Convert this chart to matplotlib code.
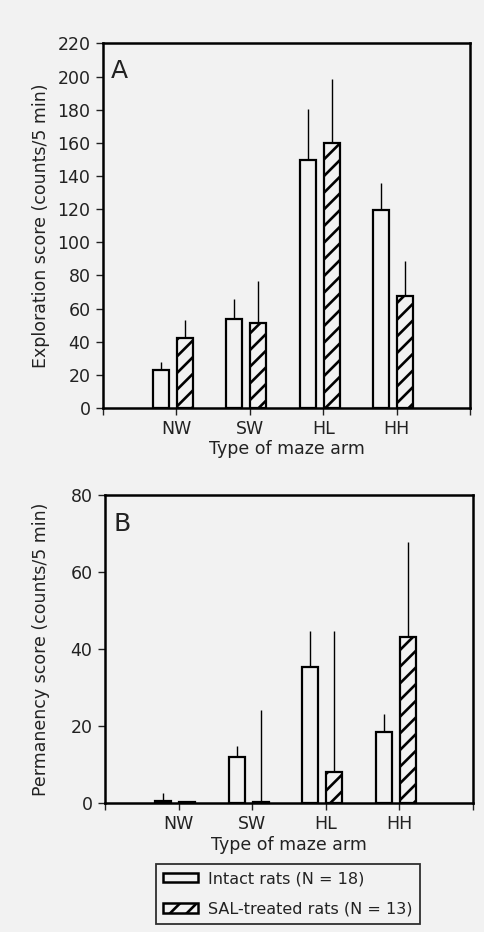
import numpy as np
import matplotlib.pyplot as plt
from matplotlib.patches import Patch

plt.rcParams['font.family'] = ['DejaVu Sans']
plt.rcParams['hatch.linewidth'] = 1.9

arms = ['NW', 'SW', 'HL', 'HH']

# panel A: exploration score
expl_intact = [22.7, 53.6, 149.5, 119.3]
expl_intact_err = [5.0, 12.1, 30.9, 16.7]
expl_sal = [42.2, 51.2, 159.7, 67.9]
expl_sal_err = [10.8, 25.6, 38.6, 20.9]

# panel B: permanency score
perm_intact = [0.4, 12.0, 35.4, 18.5]
perm_intact_err = [2.0, 2.7, 9.3, 4.5]
perm_sal = [0.3, 0.3, 7.9, 43.0]
perm_sal_err = [0.0, 23.8, 36.8, 24.8]

bg = '#f2f2f2'
ink = '#222222'
fig = plt.figure(figsize=(4.85, 9.32), dpi=100, facecolor=bg)

x = np.arange(1, 5)
w = 0.22


def panel(ax, a, a_err, b, b_err, ymax, step, ylabel, letter, lx, ly, ylx, xlpad):
    ax.set_facecolor(bg)
    xa = x - 0.21
    xb = x + 0.115
    ax.bar(xa, a, w, color=bg, edgecolor='black', linewidth=1.6, zorder=3)
    ax.bar(xb, b, w, color=bg, edgecolor='black', linewidth=1.6,
           hatch='//', zorder=3)
    ax.vlines(xa, a, np.array(a) + np.array(a_err), color='black', lw=1.0, zorder=2)
    ax.vlines(xb, b, np.array(b) + np.array(b_err), color='black', lw=1.0, zorder=2)
    ax.set_xlim(0, 5)
    ax.set_ylim(0, ymax)
    ax.set_xticks(range(6))
    ax.set_xticklabels([''] + arms + [''])
    ax.set_yticks(np.arange(0, ymax + 1, step))
    ax.tick_params(direction='out', length=5, width=1.0, labelsize=12.5, pad=4,
                   colors=ink)
    for s in ax.spines.values():
        s.set_linewidth(1.8)
    ax.set_ylabel(ylabel, fontsize=12.5, color=ink)
    ax.yaxis.set_label_coords(ylx, 0.5)
    ax.set_xlabel('Type of maze arm', fontsize=12.5, labelpad=xlpad, color=ink)
    ax.text(lx, ly, letter, transform=ax.transAxes, fontsize=18, va='center',
            color=ink)


axA = fig.add_axes([103 / 485, 1 - 408 / 932, 367 / 485, 364.5 / 932])
panel(axA, expl_intact, expl_intact_err, expl_sal, expl_sal_err, 220, 20,
      'Exploration score (counts/5 min)', 'A', 0.022, 0.925, -0.144, 1)

axB = fig.add_axes([105 / 485, 1 - 802.7 / 932, 368 / 485, 307.7 / 932])
panel(axB, perm_intact, perm_intact_err, perm_sal, perm_sal_err, 80, 20,
      'Permanency score (counts/5 min)', 'B', 0.024, 0.907, -0.149, 2)

handles = [Patch(facecolor=bg, edgecolor='black', linewidth=1.8),
           Patch(facecolor=bg, edgecolor='black', linewidth=1.8, hatch='//')]
leg = fig.legend(handles, ['Intact rats (N = 18)', 'SAL-treated rats (N = 13)'],
                 loc='upper left', bbox_to_anchor=(156 / 485, 1 - 864 / 932),
                 frameon=True, fancybox=False, edgecolor='black', facecolor=bg,
                 fontsize=11.5, handlelength=2.2, handleheight=0.55,
                 borderaxespad=0, borderpad=0.45, labelspacing=0.95,
                 handletextpad=0.6)
leg.get_frame().set_linewidth(1.3)
for t in leg.get_texts():
    t.set_color(ink)

fig.savefig('out.png', dpi=100, facecolor=bg)
